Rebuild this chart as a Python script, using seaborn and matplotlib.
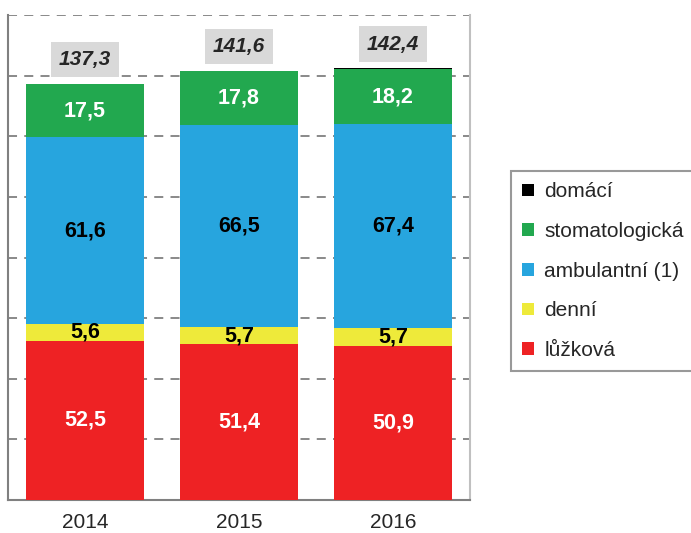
import pandas as pd
import numpy as np
import seaborn as sns
import matplotlib.pyplot as plt
from matplotlib.patches import Patch

years = ['2014', '2015', '2016']
luzkova = [52.5, 51.4, 50.9]
denni = [5.6, 5.7, 5.7]
ambulantni = [61.6, 66.5, 67.4]
stomatologicka = [17.5, 17.8, 18.2]
domaci = [0.1, 0.2, 0.2]
totals = [137.3, 141.6, 142.4]

# bottom -> top order
series = ['lůžková', 'denní', 'ambulantní (1)', 'stomatologická', 'domácí']
values = [luzkova, denni, ambulantni, stomatologicka, domaci]
colors = ['#ee2224', '#eeea3a', '#27a5de', '#22a84f', '#000000']
label_colors = ['white', 'black', 'black', 'white', None]


def fmt(v):
	return ('%.1f' % v).replace('.', ',')


sns.set_style('white')
plt.rcParams['font.family'] = ['Liberation Sans', 'DejaVu Sans']

fig = plt.figure(figsize=(6.91, 5.33), dpi=100)
ax = fig.add_axes([8 / 691, 33 / 533, 462 / 691, 485 / 533])

# cumulative sums, drawn from the top layer down so they overlap into a stack
df = pd.DataFrame({'year': years})
cum = np.zeros(len(years))
for name, vals in zip(series, values):
	cum = cum + np.array(vals)
	df[name] = cum

for name, col in reversed(list(zip(series, colors))):
	sns.barplot(data=df, x='year', y=name, color=col, width=0.77,
				saturation=1, linewidth=0, ax=ax, zorder=3)

# segment labels
bottom = np.zeros(len(years))
for vals, lc in zip(values, label_colors):
	for i, v in enumerate(vals):
		if lc is not None:
			ax.text(i, bottom[i] + v / 2, fmt(v), ha='center', va='center',
					color=lc, fontsize=15.5, fontweight='bold', zorder=5)
	bottom = bottom + np.array(vals)

# totals
for i, t in enumerate(totals):
	ax.text(i, t + 8, fmt(t), ha='center', va='center', fontsize=15,
			fontweight='bold', style='italic', zorder=5,
			bbox=dict(boxstyle='square,pad=0.4', facecolor='#d9d9d9', edgecolor='none'))

ax.set_ylim(0, 160)
ax.set_xlim(-0.5, 2.5)
ax.set_yticks(np.arange(20, 161, 20))
ax.set_yticklabels([])
ax.tick_params(axis='y', length=0)
ax.grid(axis='y', color='#808080', linestyle=(0, (5, 4)), linewidth=1.3, zorder=0)
ax.set_axisbelow(True)
ax.set_xlabel('')
ax.set_ylabel('')
ax.tick_params(axis='x', which='major', length=0, labelsize=15, pad=9)
ax.set_xticks([-0.5, 0.5, 1.5, 2.5], minor=True)
ax.tick_params(axis='x', which='minor', length=6, width=1.3, color='#808080', direction='out')

for s in ['left', 'bottom']:
	ax.spines[s].set_color('#808080')
	ax.spines[s].set_linewidth(1.5)
ax.spines['right'].set_color('#c0c0c0')
ax.spines['right'].set_linewidth(1.5)
ax.spines['top'].set_visible(False)

handles = [Patch(facecolor=c, edgecolor='none', label=n) for n, c in zip(series, colors)]
leg = fig.legend(handles=handles[::-1], loc='upper left', bbox_to_anchor=(511 / 691, 1 - 171 / 533),
				 borderaxespad=0, fontsize=15, frameon=True, fancybox=False,
				 handlelength=0.55, handleheight=0.55, handletextpad=0.5,
				 labelspacing=0.99, borderpad=0.55)
leg.get_frame().set_edgecolor('#808080')
leg.get_frame().set_linewidth(1.5)

fig.savefig('out.png', dpi=100)
